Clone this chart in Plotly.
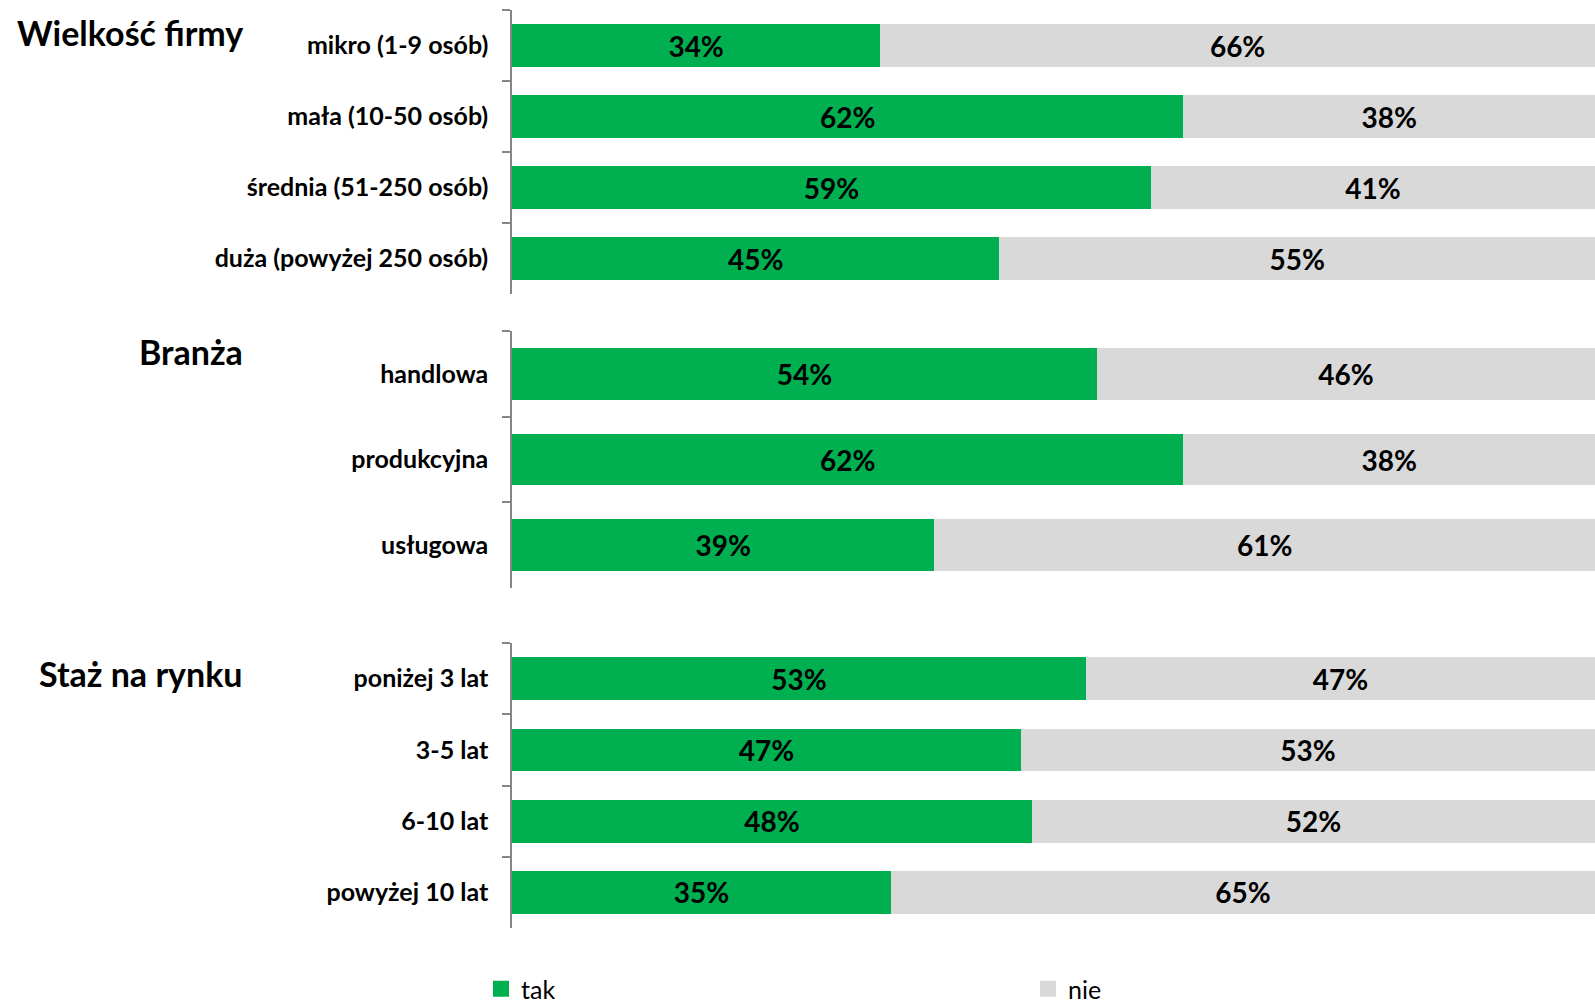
import plotly.graph_objects as go

# Data
size_cats = ["mikro (1-9 osób)", "mała (10-50 osób)", "średnia (51-250 osób)", "duża (powyżej 250 osób)"]
size_tak = [34, 62, 59, 45]
size_nie = [66, 38, 41, 55]

branch_cats = ["handlowa", "produkcyjna", "usługowa"]
branch_tak = [54, 62, 39]
branch_nie = [46, 38, 61]

tenure_cats = ["poniżej 3 lat", "3-5 lat", "6-10 lat", "powyżej 10 lat"]
tenure_tak = [53, 47, 48, 35]
tenure_nie = [47, 53, 52, 65]

section_titles = ["Wielkość firmy", "Branża", "Staż na rynku"]
series_names = ["tak", "nie"]

GREEN = "#00B050"
GRAY = "#D9D9D9"
AXIS = "#868686"
FONT = "Lato"

W, H = 1595, 1007
x0 = 512 / W
# pixel extents (top, bottom) for each panel
panels_px = [(10, 294), (331, 588), (643, 928)]
domains = [[1 - b / H, 1 - t / H] for t, b in panels_px]

groups = [
    (size_cats, size_tak, size_nie),
    (branch_cats, branch_tak, branch_nie),
    (tenure_cats, tenure_tak, tenure_nie),
]
colors = [GREEN, GRAY]

fig = go.Figure()
for i, (cats, tak, nie) in enumerate(groups):
    xa = "x" if i == 0 else f"x{i+1}"
    ya = "y" if i == 0 else f"y{i+1}"
    for name, vals, col in [(series_names[0], tak, GREEN), (series_names[1], nie, GRAY)]:
        fig.add_trace(go.Bar(
            y=cats, x=vals, orientation="h", name=name,
            marker=dict(color=col, line=dict(width=0)),
            width=0.6,
            text=[f"{v}%" for v in vals], textposition="inside",
            insidetextanchor="middle", textangle=0, constraintext="none",
            textfont=dict(family=FONT, size=28, color="black", weight="bold"),
            xaxis=xa, yaxis=ya, showlegend=False, legendgroup=name,
            hoverinfo="skip",
        ))

# legend entries (square markers), one legend per series
for name, col, lg in zip(series_names, colors, ["legend", "legend2"]):
    fig.add_trace(go.Scatter(
        x=[None], y=[None], mode="markers", name=name, legend=lg,
        marker=dict(symbol="square", size=16, color=col),
        legendgroup=name, showlegend=True, hoverinfo="skip",
    ))

leg_common = dict(orientation="h", y=1 - 989 / H, yanchor="middle", itemsizing="trace",
                  font=dict(family=FONT, size=25, color="black"),
                  itemclick=False, itemdoubleclick=False, bgcolor="rgba(0,0,0,0)")
layout = dict(
    width=W, height=H,
    margin=dict(l=0, r=0, t=0, b=0, autoexpand=False),
    paper_bgcolor="white", plot_bgcolor="white",
    barmode="stack",
    font=dict(family=FONT, color="black"),
    legend=dict(x=481 / W, xanchor="left", **leg_common),
    legend2=dict(x=1028 / W, xanchor="left", **leg_common),
)
for i, dom in enumerate(domains):
    sfx = "" if i == 0 else str(i + 1)
    layout[f"xaxis{sfx}"] = dict(domain=[x0, 1], range=[0, 100], visible=False,
                                 anchor=f"y{sfx}", fixedrange=True)
    layout[f"yaxis{sfx}"] = dict(domain=dom, anchor=f"x{sfx}", autorange="reversed",
                                 showline=True, linecolor=AXIS, linewidth=1.5,
                                 ticks="outside", tickson="boundaries", ticklen=8,
                                 tickcolor=AXIS, tickwidth=1.5, showgrid=False,
                                 ticklabelstandoff=17,
                                 tickfont=dict(family=FONT, size=25, color="black", weight="bold"),
                                 fixedrange=True)
fig.update_layout(**layout)

title_y_px = [32, 351, 673]
for t, ypx in zip(section_titles, title_y_px):
    fig.add_annotation(text=t, xref="paper", yref="paper", x=245 / W, y=1 - ypx / H,
                       xanchor="right", yanchor="middle", showarrow=False,
                       font=dict(family=FONT, size=34, color="black", weight="bold"))

fig.write_html("out.html", config={"displayModeBar": False},
               post_script="document.body.style.margin='0';document.body.style.overflow='hidden';")
